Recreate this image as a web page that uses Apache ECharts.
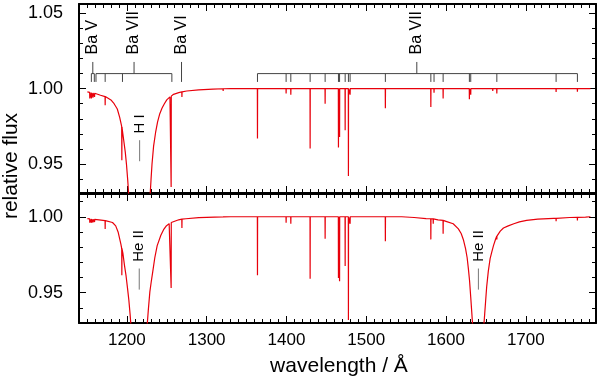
<!DOCTYPE html>
<html><head><meta charset="utf-8">
<script src="https://cdn.jsdelivr.net/npm/echarts@6/dist/echarts.min.js"></script>
<style>html,body{margin:0;padding:0;background:#fff}#c{width:600px;height:382px}</style>
</head><body><div id="c"></div>
<script>
// ---------------- data ----------------
// smooth profile of the upper model: [wavelength, relative flux]
const topProfile = [
 [1150.5,0.9978],[1160,0.9968],[1167,0.9956],[1175,0.9940],[1180,0.9925],[1184,0.9900],[1188,0.9865],
 [1191,0.9810],[1193.5,0.9750],[1196,0.9660],[1198,0.9580],[1199.5,0.9500],[1201,0.9400],[1202.3,0.9300],
 [1215.7,0.6000],
 [1229.2,0.9300],[1230.3,0.9400],[1231.5,0.9500],[1233.5,0.9620],[1236,0.9710],[1238.5,0.9780],[1241,0.9830],
 [1244,0.9870],[1247,0.9900],[1250,0.9925],[1254,0.9945],[1258.5,0.9962],[1265,0.9973],[1275,0.9984],
 [1290,0.9991],[1308,0.9996],[1330,1.0000],[1781,1.0000]
];
// narrow lines of the upper model: [wavelength, local continuum, line minimum]
const topLines = [
 [1153.5,0.9975,0.9935],[1155.5,0.9973,0.9935],[1157.5,0.9971,0.9940],[1159.5,0.9969,0.9945],
 [1172.8,0.9947,0.9890],[1193.7,0.9745,0.9526],[1255.5,0.9950,0.9350],[1269,0.9978,0.9945],
 [1320.7,0.9999,0.9985],[1363.7,1,0.9670],[1399.6,1,0.9967],[1405.5,1,0.9960],[1429.7,1,0.9604],
 [1448.5,1,0.9900],[1465.2,1,0.9610],[1466.6,1,0.9680],[1473.6,1,0.9725],[1477.7,1,0.9423],
 [1479.8,1,0.9960],[1501.5,1,0.9993],[1524,1,0.9870],[1544.6,1,0.9990],[1581,1,0.9879],[1585,1,0.9973],
 [1596.4,1,0.9934],[1629.3,1,0.9930],[1631,1,0.9960],[1658.6,1,0.9985],[1663.7,1,0.9967],
 [1738,1,0.9977],[1764.7,1,0.9980],[1775,1,0.9990]
];
// smooth profile of the lower model
const bottomProfile = [
 [1150.5,0.9988],[1165,0.9980],[1175,0.9972],[1182,0.9962],[1186,0.9940],[1189,0.9900],[1192.5,0.9820],
 [1195,0.9760],[1197,0.9680],[1199,0.9610],[1200.8,0.9530],[1202.5,0.9450],[1204,0.9360],[1205,0.9290],
 [1215.1,0.6000],
 [1225.5,0.9290],[1226.8,0.9380],[1228.8,0.9505],[1230.5,0.9570],[1232.5,0.9640],[1235,0.9730],[1238,0.9810],
 [1242.6,0.9878],[1246,0.9915],[1249,0.9937],[1253,0.9955],[1257,0.9966],[1265,0.9980],[1274,0.9987],
 [1290,0.9994],[1310,0.9998],[1330,1.0000],[1540,1.0000],[1560,0.9995],[1575,0.9988],[1590,0.9980],
 [1600,0.9970],[1609,0.9954],[1615.5,0.9920],[1619,0.9890],[1622,0.9845],[1624.5,0.9790],[1626.5,0.9730],
 [1628,0.9660],[1629.5,0.9580],[1631,0.9470],[1632.3,0.9370],[1633.3,0.9290],
 [1640.4,0.6000],
 [1647.5,0.9290],[1648.5,0.9360],[1649.6,0.9440],[1651,0.9540],[1653,0.9640],[1655.3,0.9724],[1657.5,0.9770],
 [1659.5,0.9810],[1662,0.9850],[1665,0.9880],[1668,0.9905],[1672,0.9926],[1678,0.9940],[1685,0.9954],
 [1692,0.9966],[1701,0.9976],[1715,0.9984],[1735,0.9990],[1755,0.9995],[1781,1.0000]
];
const bottomLines = [
 [1153.5,0.9986,0.9960],[1155.5,0.9985,0.9960],[1157.5,0.9984,0.9962],[1159.5,0.9983,0.9965],
 [1172.8,0.9975,0.9920],[1193.7,0.9790,0.9614],[1255.5,0.9962,0.9530],[1269,0.9984,0.9926],
 [1320.7,0.9999,0.9988],[1363.7,1,0.9614],[1399.6,1,0.9960],[1405.5,1,0.9954],[1429.7,1,0.9592],
 [1448.5,1,0.9855],[1465.2,1,0.9597],[1466.6,1,0.9575],[1473.6,1,0.9676],[1477.7,1,0.9320],
 [1479.8,1,0.9954],[1501.5,1,0.9993],[1524,1,0.9838],[1544.6,1,0.9992],[1581,0.9987,0.9851],
 [1584,0.9986,0.9954],[1596.4,0.9976,0.9888],[1663.7,0.9872,0.9850],[1738,0.9990,0.9970],
 [1764.7,0.9996,0.9975],[1775,0.9998,0.9990]
];
// line identifications
const baIdLabels = ['Ba V','Ba VII','Ba VI','Ba VII'];
const baIdStems  = [1157.3, 1209, 1268.5, 1563.4];
const baIdTicks  = [
 [1155.5,1159.2],
 [1161.3,1172.8,1194.5,1256.4],
 [],
 [1363.7,1399.6,1405.5,1429.7,1448.5,1465.2,1466.6,1473.6,1477.7,1479.8,1524,1581,1585,1596.4,1629.3,1631,1663.7,1738,1764.7]
];
const topIonLabels = ['H I'];
const topIonWl = [1216.0];
const bottomIonLabels = ['He II','He II'];
const bottomIonWl = [1215.5, 1640.6];
// axis ticks
const xMajorTicks = [1200,1300,1400,1500,1600,1700];
const yTopMajorTicks = [0.95,1.00,1.05];
const yBottomMajorTicks = [0.95,1.00];

// ---------------- layout ----------------
const X_MIN = 1140, X_MAX = 1788;
const YT_MIN = 0.931, YT_MAX = 1.0559;
const YB_MIN = 0.930, YB_MAX = 1.0150;
const FONT = '"Liberation Sans", Arial, sans-serif';
const BAR_Y = 1.0099, TICK_Y = 1.0044, STEM_Y = 1.0176, BA_LABEL_Y = 1.0225;
const ION_LABEL_Y = 0.9703, ION_STEM_TOP = 0.9659, ION_STEM_BOT = 0.9520;
const HALF_W = 0.15;

function range(a, b, s) { const r = []; for (let v = a; v <= b + 1e-9; v += s) r.push(+v.toFixed(4)); return r; }
const xMinorTicks = range(1140, 1780, 10);
const yTopMinorTicks = range(0.94, 1.05, 0.01);
const yBottomMinorTicks = range(0.94, 1.01, 0.01);

function buildSpectrum(profile, lines) {
  const pts = profile.map(p => [p[0], p[1]]);
  lines.forEach(([wl, base, minF]) => { pts.push([wl - HALF_W, base], [wl, minF], [wl + HALF_W, base]); });
  pts.sort((a, b) => a[0] - b[0]);
  return pts;
}

// segments for Ba identifications
const idSegs = [];
baIdStems.forEach((stem, i) => {
  const ticks = baIdTicks[i];
  if (ticks.length) {
    const all = ticks.concat([stem]);
    idSegs.push([Math.min(...all), BAR_Y, Math.max(...all), BAR_Y]);
    ticks.forEach(t => idSegs.push([t, BAR_Y, t, TICK_Y]));
    idSegs.push([stem, STEM_Y, stem, BAR_Y]);
  } else {
    idSegs.push([stem, STEM_Y, stem, TICK_Y]);
  }
});
const baLabelData = baIdStems.map((s, i) => [s, BA_LABEL_Y, baIdLabels[i]]);
const topIonSegs = topIonWl.map(w => [w, ION_STEM_TOP, w, ION_STEM_BOT]);
const bottomIonSegs = bottomIonWl.map(w => [w, ION_STEM_TOP, w, ION_STEM_BOT]);
const topIonLabelData = topIonWl.map((w, i) => [w, ION_LABEL_Y, topIonLabels[i]]);
const bottomIonLabelData = bottomIonWl.map((w, i) => [w, ION_LABEL_Y, bottomIonLabels[i]]);

const grids = [
  { left: 79, right: 4, top: 4, height: 189 },
  { left: 79, right: 4, top: 194, height: 129 }
];

function xAxisDef(grid, pos, minor, labels) {
  return {
    type: 'value', gridIndex: grid, position: pos, min: X_MIN, max: X_MAX,
    axisLine: { show: !minor, onZero: false, lineStyle: { color: '#000', width: 2 } },
    axisTick: { show: true, inside: true, length: minor ? 4 : 7, customValues: minor ? xMinorTicks : xMajorTicks,
                lineStyle: { color: '#000', width: 1 } },
    axisLabel: { show: !!labels, customValues: xMajorTicks, margin: 9, color: '#000', fontSize: 17, fontFamily: FONT,
                 formatter: v => String(Math.round(v)) },
    splitLine: { show: false }
  };
}
function yAxisDef(grid, pos, minor, labels, ymin, ymax, major, minorT) {
  return {
    type: 'value', gridIndex: grid, position: pos, min: ymin, max: ymax,
    axisLine: { show: !minor, onZero: false, lineStyle: { color: '#000', width: 2 } },
    axisTick: { show: true, inside: true, length: minor ? 4 : 7, customValues: minor ? minorT : major,
                lineStyle: { color: '#000', width: 1 } },
    axisLabel: { show: !!labels, customValues: major, margin: 16, color: '#000', fontSize: 18, fontFamily: FONT,
                 formatter: v => v.toFixed(2) },
    splitLine: { show: false }
  };
}

const xAxes = [
  xAxisDef(0, 'bottom', false, false), xAxisDef(0, 'top', false, false),
  xAxisDef(0, 'bottom', true, false), xAxisDef(0, 'top', true, false),
  xAxisDef(1, 'bottom', false, true), xAxisDef(1, 'top', false, false),
  xAxisDef(1, 'bottom', true, false), xAxisDef(1, 'top', true, false)
];
const yAxes = [
  yAxisDef(0, 'left', false, true, YT_MIN, YT_MAX, yTopMajorTicks, yTopMinorTicks),
  yAxisDef(0, 'right', false, false, YT_MIN, YT_MAX, yTopMajorTicks, yTopMinorTicks),
  yAxisDef(0, 'left', true, false, YT_MIN, YT_MAX, yTopMajorTicks, yTopMinorTicks),
  yAxisDef(0, 'right', true, false, YT_MIN, YT_MAX, yTopMajorTicks, yTopMinorTicks),
  yAxisDef(1, 'left', false, true, YB_MIN, YB_MAX, yBottomMajorTicks, yBottomMinorTicks),
  yAxisDef(1, 'right', false, false, YB_MIN, YB_MAX, yBottomMajorTicks, yBottomMinorTicks),
  yAxisDef(1, 'left', true, false, YB_MIN, YB_MAX, yBottomMajorTicks, yBottomMinorTicks),
  yAxisDef(1, 'right', true, false, YB_MIN, YB_MAX, yBottomMajorTicks, yBottomMinorTicks)
];

function segSeries(data, xi, yi, color, z) {
  return {
    type: 'custom', xAxisIndex: xi, yAxisIndex: yi, data: data, z: z || 5, silent: true,
    encode: { x: [0, 2], y: [1, 3] },
    renderItem: (params, api) => {
      const p1 = api.coord([api.value(0), api.value(1)]);
      const p2 = api.coord([api.value(2), api.value(3)]);
      return { type: 'line', shape: { x1: p1[0], y1: p1[1], x2: p2[0], y2: p2[1] },
               style: { stroke: color, lineWidth: 1 } };
    }
  };
}
function textSeries(data, xi, yi, size) {
  return {
    type: 'custom', xAxisIndex: xi, yAxisIndex: yi, data: data, z: 6, silent: true,
    encode: { x: 0, y: 1 },
    renderItem: (params, api) => {
      const p = api.coord([api.value(0), api.value(1)]);
      return { type: 'text', x: p[0], y: p[1], rotation: Math.PI / 2,
               style: { text: data[params.dataIndex][2], fill: '#000', font: size + 'px ' + FONT,
                        align: 'left', verticalAlign: 'middle' } };
    }
  };
}

const chart = echarts.init(document.getElementById('c'), null, { renderer: 'canvas' });
chart.setOption({
  animation: false,
  backgroundColor: '#fff',
  grid: grids,
  xAxis: xAxes,
  yAxis: yAxes,
  graphic: [
    { type: 'text', x: 11, y: 166, rotation: Math.PI / 2,
      style: { text: 'relative flux', fill: '#000', font: '21px ' + FONT, align: 'center', verticalAlign: 'middle' } },
    { type: 'text', x: 339, y: 366,
      style: { text: 'wavelength / Å', fill: '#000', font: '21px ' + FONT, align: 'center', verticalAlign: 'middle' } }
  ],
  series: [
    { type: 'line', xAxisIndex: 0, yAxisIndex: 0, data: buildSpectrum(topProfile, topLines),
      showSymbol: false, sampling: null, lineStyle: { color: '#e8000b', width: 1.2 }, z: 3, clip: true },
    { type: 'line', xAxisIndex: 4, yAxisIndex: 4, data: buildSpectrum(bottomProfile, bottomLines),
      showSymbol: false, sampling: null, lineStyle: { color: '#e8000b', width: 1.2 }, z: 3, clip: true },
    segSeries(idSegs, 0, 0, '#444'),
    textSeries(baLabelData, 0, 0, 16),
    segSeries(topIonSegs, 0, 0, '#777'),
    textSeries(topIonLabelData, 0, 0, 15),
    segSeries(bottomIonSegs, 4, 4, '#777'),
    textSeries(bottomIonLabelData, 4, 4, 15)
  ]
});
</script></body></html>
